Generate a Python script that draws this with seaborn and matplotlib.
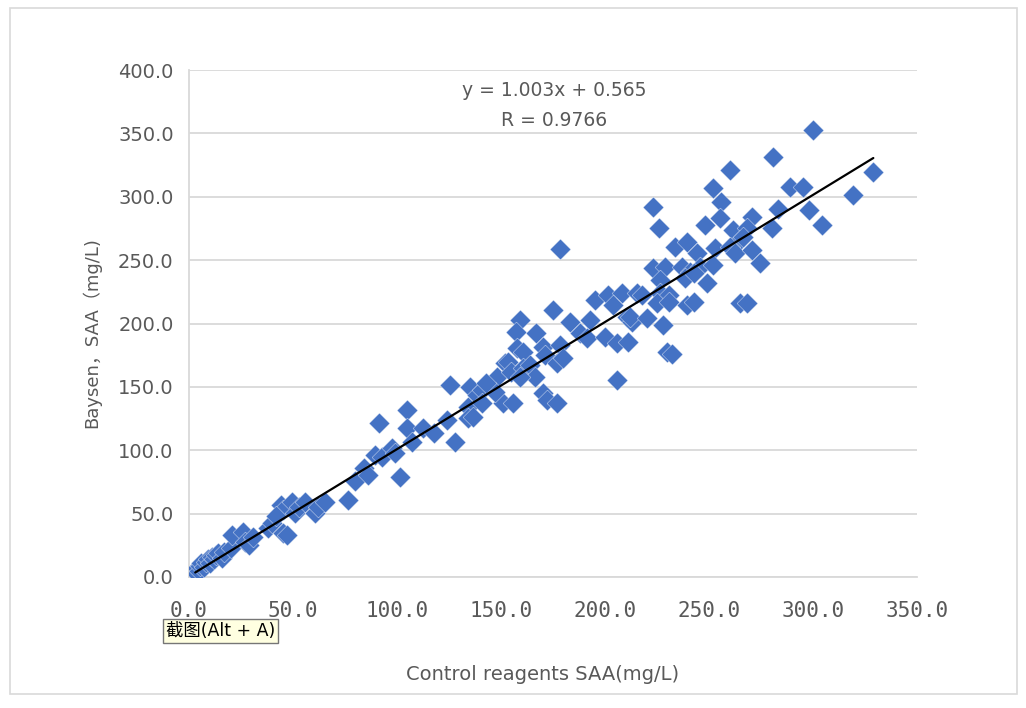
import numpy as np
import pandas as pd
import matplotlib
matplotlib.use("Agg")
import matplotlib.pyplot as plt
import seaborn as sns
from matplotlib.patches import Rectangle
from matplotlib.ticker import FormatStrFormatter

# Valori (Control reagents SAA vs Baysen SAA, mg/L)
control_saa = [
    3, 4, 5, 5.5, 6, 7, 8, 9, 10, 11, 12, 13, 14, 16, 17, 20, 20.7, 26, 27, 29,
    31, 38, 40, 45, 44, 45, 49.5, 51, 53, 56, 60.6, 62, 65.4, 47, 42,
    76.5, 80, 84, 86, 89.5, 93, 97.6, 99, 101.5, 91.4, 105, 105, 107, 112.6, 118,
    124, 128, 125.5, 134, 134, 136.6, 135, 138.5, 141, 145, 148, 151, 147, 152,
    178.5, 195, 201.5, 208, 215.5, 204, 210.7, 213, 175, 159, 157, 167, 183, 188,
    193, 191.4, 200, 206, 211, 157.7, 160.6, 170, 178.5, 171, 177, 180, 153.5, 155,
    160.6, 164, 166.4, 159, 143, 141, 156, 170, 172, 177, 206,
    252, 256, 223, 226, 248, 255.4, 261.7, 270.8, 268.4, 265, 280.4, 283, 233.8,
    239.5, 244, 253, 260, 262.6, 270.8, 274.6, 223, 229, 226.5, 237, 241, 245.8,
    252, 238.6, 243, 249, 218, 226.5, 231, 225, 231, 239.5, 243, 265, 268.4, 212,
    220, 228, 230, 232,
    300, 281, 329, 289, 295, 319, 298, 304.5, 266.5, 260,
]
baysen_saa = [
    4, 7, 5, 9, 11, 8, 12, 14, 11, 16, 14, 17, 19, 15, 20, 23, 33, 35.5, 27.6, 25,
    31.6, 38.7, 42.6, 34.7, 57, 53, 59, 50.5, 55, 59, 50.5, 55, 59, 33, 48,
    60.7, 76, 86, 80.5, 96, 95, 102, 98, 79, 121.5, 132, 117.6, 106.5, 117.6, 113.6,
    124, 106.5, 151.5, 134, 125.5, 126, 150, 143.6, 147.5, 151.5, 158, 137, 146, 169,
    259, 218.5, 222.5, 224, 224, 214.6, 205, 201, 210.6, 202.7, 193, 192.5, 201, 192.5,
    203, 188.6, 189, 184.6, 185.4, 181, 177.5, 181.5, 183, 175, 169, 173, 169.6, 161.7,
    165, 167, 158, 158, 153, 137, 137, 145, 139.6, 137, 155.5,
    307, 296, 292, 275, 277.7, 283, 273.8, 284, 275, 266, 275, 290, 260,
    264, 256, 259.6, 260, 256, 258, 247.7, 243.8, 244.6, 234.3, 244.6, 240.6, 244.6,
    246, 236, 240, 232, 222.5, 224, 222.5, 216, 217, 214.6, 217, 216, 216, 205,
    204, 199, 177.5, 176,
    352.6, 331, 319.5, 307.7, 307.7, 301, 289.5, 277.7, 268, 321,
]
slope = 1.003
intercept = 0.565
r_value = 0.9766
x_ticks = [0, 50, 100, 150, 200, 250, 300, 350]
y_ticks = [0, 50, 100, 150, 200, 250, 300, 350, 400]

df = pd.DataFrame({"control": control_saa, "baysen": baysen_saa})

sns.set_theme(style="white")
plt.rcParams['font.family'] = ['DejaVu Sans', 'Noto Sans CJK SC']

text_col = '#595959'
grid_col = '#d9d9d9'

fig = plt.figure(figsize=(10.26, 7.08), dpi=100)
fig.patch.set_facecolor('white')
fig.patches.append(Rectangle((10 / 1026, 1 - 694 / 708), 1007 / 1026, 686 / 708,
                             transform=fig.transFigure, fill=False,
                             edgecolor=grid_col, linewidth=1.2))

ax = fig.add_axes([189 / 1026, 1 - 577 / 708, 728 / 1026, 507 / 708])

sns.scatterplot(data=df, x="control", y="baysen", marker='D', s=112,
                color='#4472C4', edgecolor='white', linewidth=0.25, ax=ax, zorder=3)

# linea di tendenza
line_x = np.array([min(control_saa), max(control_saa)])
ax.plot(line_x, slope * line_x + intercept, color='black', linewidth=1.6, zorder=4)

ax.set_xlim(0, 350)
ax.set_ylim(0, 400)
ax.set_xticks(x_ticks)
ax.set_yticks(y_ticks)
ax.xaxis.set_major_formatter(FormatStrFormatter('%.1f'))
ax.yaxis.set_major_formatter(FormatStrFormatter('%.1f'))
ax.tick_params(axis='y', length=0, pad=11, labelsize=14, labelcolor=text_col)
ax.tick_params(axis='x', length=0, pad=17, labelsize=15, labelcolor=text_col)
for lbl in ax.get_xticklabels():
    lbl.set_family('DejaVu Sans Mono')

ax.grid(axis='y', color=grid_col, linewidth=1.3)
ax.set_axisbelow(True)
for side in ['top', 'right']:
    ax.spines[side].set_visible(False)
ax.spines['left'].set_color(grid_col)
ax.spines['bottom'].set_color(grid_col)
ax.spines['left'].set_linewidth(1.3)
ax.spines['bottom'].set_linewidth(1.3)

ax.set_xlabel('')
ax.set_ylabel('')
fig.text(543 / 1026, 1 - 675 / 708, 'Control reagents SAA(mg/L)', ha='center', va='center',
         fontsize=14, color=text_col)
fig.text(92 / 1026, 1 - 333 / 708, 'Baysen，SAA（mg/L)', ha='center', va='center',
         rotation=90, fontsize=13, color=text_col)

fig.text(554 / 1026, 1 - 91 / 708, f'y = {slope:.3f}x + {intercept:.3f}', ha='center',
         va='center', fontsize=13.5, color=text_col)
fig.text(554 / 1026, 1 - 120 / 708, f'R = {r_value:.4f}', ha='center', va='center',
         fontsize=13.5, color=text_col)

# tooltip dello screenshot
fig.text(166 / 1026, 1 - 631 / 708, '截图(Alt + A)', ha='left', va='center', fontsize=12.5,
         color='black', family=['DejaVu Sans', 'Noto Sans CJK SC'],
         bbox=dict(boxstyle='square,pad=0.15', facecolor='#ffffe1', edgecolor='#767676',
                   linewidth=1))

fig.savefig('out.png', dpi=100)
